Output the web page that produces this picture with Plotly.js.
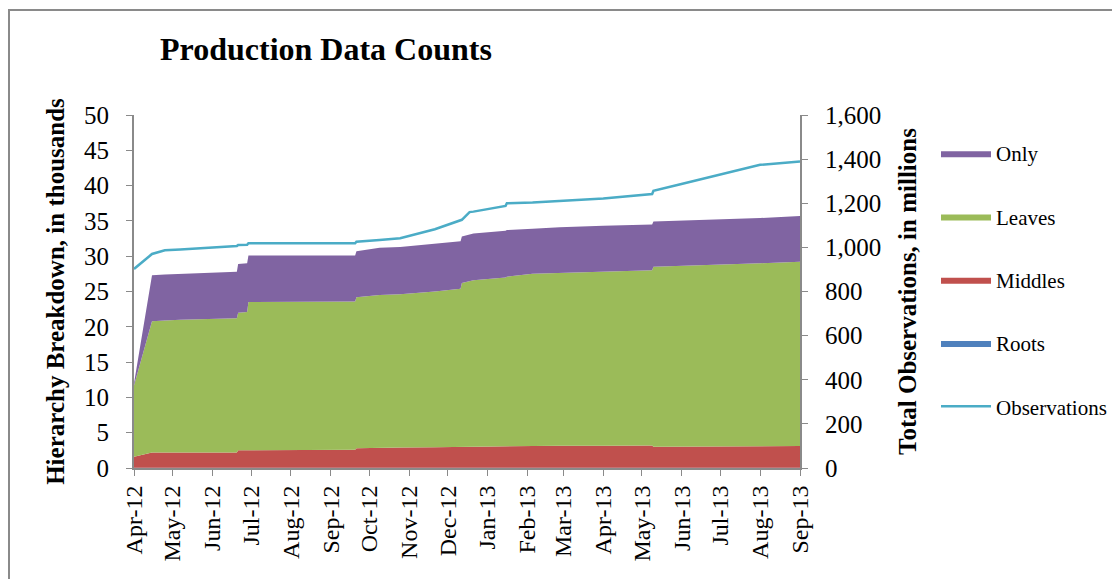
<!DOCTYPE html>
<html>
<head>
<meta charset="utf-8">
<script src="https://cdn.plot.ly/plotly-3.0.1.min.js"></script>
<style>
  html, body { margin: 0; padding: 0; background: #fff; }
  #frame { position: absolute; left: 8px; top: 9px; width: 1200px; height: 700px;
           border-left: 2px solid #8a8a8a; border-top: 2px solid #8a8a8a; }
  #chart { position: absolute; left: 0; top: 0; width: 1112px; height: 579px; }
</style>
</head>
<body>
<div id="frame"></div>
<div id="chart"></div>
<script>
// ---- data ----
const dates = [
  '2012-04-01','2012-04-15','2012-04-25','2012-05-07','2012-06-20','2012-06-21',
  '2012-06-28','2012-06-29','2012-09-20','2012-09-21','2012-10-09','2012-10-25','2012-11-21',
  '2012-12-11','2012-12-12','2012-12-18','2012-12-21','2013-01-15','2013-01-16','2013-02-05',
  '2013-02-26','2013-04-01','2013-05-09','2013-05-10','2013-05-31','2013-08-01',
  '2013-09-01'
];
// thousands (layer values, stacked)
const roots   = [0.02,0.02,0.02,0.02,0.02,0.02,0.02,0.02,0.02,0.02,0.02,0.02,0.02,0.02,0.02,0.02,0.02,0.02,0.02,0.02,0.02,0.02,0.02,0.02,0.02,0.02,0.02];
const middles = [1.58,2.18,2.18,2.18,2.18,2.48,2.48,2.58,2.58,2.78,2.78,2.88,2.93,2.98,2.98,2.98,2.98,3.03,3.03,3.13,3.13,3.13,3.18,2.98,2.98,3.03,3.08];
const leaves  = [10.1,18.6,18.7,18.8,19.0,19.5,19.6,20.9,21.0,21.4,21.7,21.7,22.05,22.4,23.2,23.5,23.6,23.95,24.05,24.35,24.45,24.65,24.8,25.5,25.6,25.95,26.1];
const only    = [0.3,6.5,6.5,6.5,6.6,6.9,6.9,6.6,6.5,6.5,6.7,6.7,6.7,6.7,6.6,6.6,6.6,6.6,6.6,6.4,6.5,6.5,6.5,6.4,6.4,6.4,6.5];
// millions
const observations = [902,970,987,990,1006,1011,1012,1019,1019,1026,1033,1041,1082,1120,1125,1160,1162,1188,1200,1203,1210,1222,1242,1256,1286,1374,1389];

const serif = '"Liberation Serif", "Times New Roman", serif';

function area(name, vals, color, rank) {
  return {
    type: 'scatter', mode: 'lines', x: dates, y: vals, name: name,
    stackgroup: 'h', line: { width: 0, color: color }, fillcolor: color,
    legendrank: rank, legendgroup: name, hoverinfo: 'x+y+name'
  };
}

const traces = [
  area('Roots', roots, '#4F81BD', 4),
  area('Middles', middles, '#C0504D', 3),
  area('Leaves', leaves, '#9BBB59', 2),
  area('Only', only, '#8064A2', 1),
  {
    type: 'scatter', mode: 'lines', x: dates, y: observations, name: 'Observations',
    yaxis: 'y2', line: { color: '#4BACC6', width: 2.5 }, legendrank: 5, legendgroup: 'obs'
  }
];

const layout = {
  width: 1112, height: 579,
  paper_bgcolor: 'rgba(0,0,0,0)', plot_bgcolor: 'rgba(0,0,0,0)',
  margin: { l: 134, r: 312, t: 115, b: 111, autoexpand: false },
  font: { family: serif, color: '#000' },
  title: {
    text: '<b>Production Data Counts</b>', font: { family: serif, size: 32, color: '#000' },
    x: 160 / 1112, xanchor: 'left', xref: 'container',
    y: 1 - 49 / 579, yanchor: 'middle', yref: 'container'
  },
  xaxis: {
    type: 'date', range: ['2012-04-01', '2013-09-01'],
    tick0: '2012-04-01', dtick: 'M1', tickformat: '%b-%y', tickangle: -90,
    ticks: 'outside', ticklen: 6, tickcolor: '#8a8a8a',
    showline: true, linecolor: '#8a8a8a', linewidth: 2, showgrid: false, zeroline: false,
    tickfont: { family: serif, size: 24, color: '#000' }, automargin: false
  },
  yaxis: {
    range: [0, 50], dtick: 5, ticks: 'outside', ticklen: 6, tickcolor: '#8a8a8a',
    showline: true, linecolor: '#8a8a8a', linewidth: 2, showgrid: false, zeroline: false,
    tickfont: { family: serif, size: 25, color: '#000' }, ticklabelstandoff: 12,
    title: { text: '<b>Hierarchy Breakdown, in thousands</b>', font: { family: serif, size: 25, color: '#000' }, standoff: 12 },
    automargin: false
  },
  yaxis2: {
    range: [0, 1600], dtick: 200, tickformat: ',d', overlaying: 'y', side: 'right',
    ticks: 'outside', ticklen: 6, tickcolor: '#8a8a8a',
    showline: true, linecolor: '#8a8a8a', linewidth: 2, showgrid: false, zeroline: false,
    tickfont: { family: serif, size: 25, color: '#000' }, ticklabelstandoff: 12,
    title: { text: '<b>Total Observations, in millions</b>', font: { family: serif, size: 25, color: '#000' }, standoff: 18 },
    automargin: false
  },
  showlegend: true,
  legend: {
    x: (936 - 134) / 666, xanchor: 'left', y: (468 - 133) / 353, yanchor: 'top',
    font: { family: serif, size: 21, color: '#000' },
    bgcolor: 'rgba(0,0,0,0)', tracegroupgap: 33, itemwidth: 50
  }
};

Plotly.newPlot('chart', traces, layout, { displayModeBar: false, staticPlot: true });
</script>
</body>
</html>
